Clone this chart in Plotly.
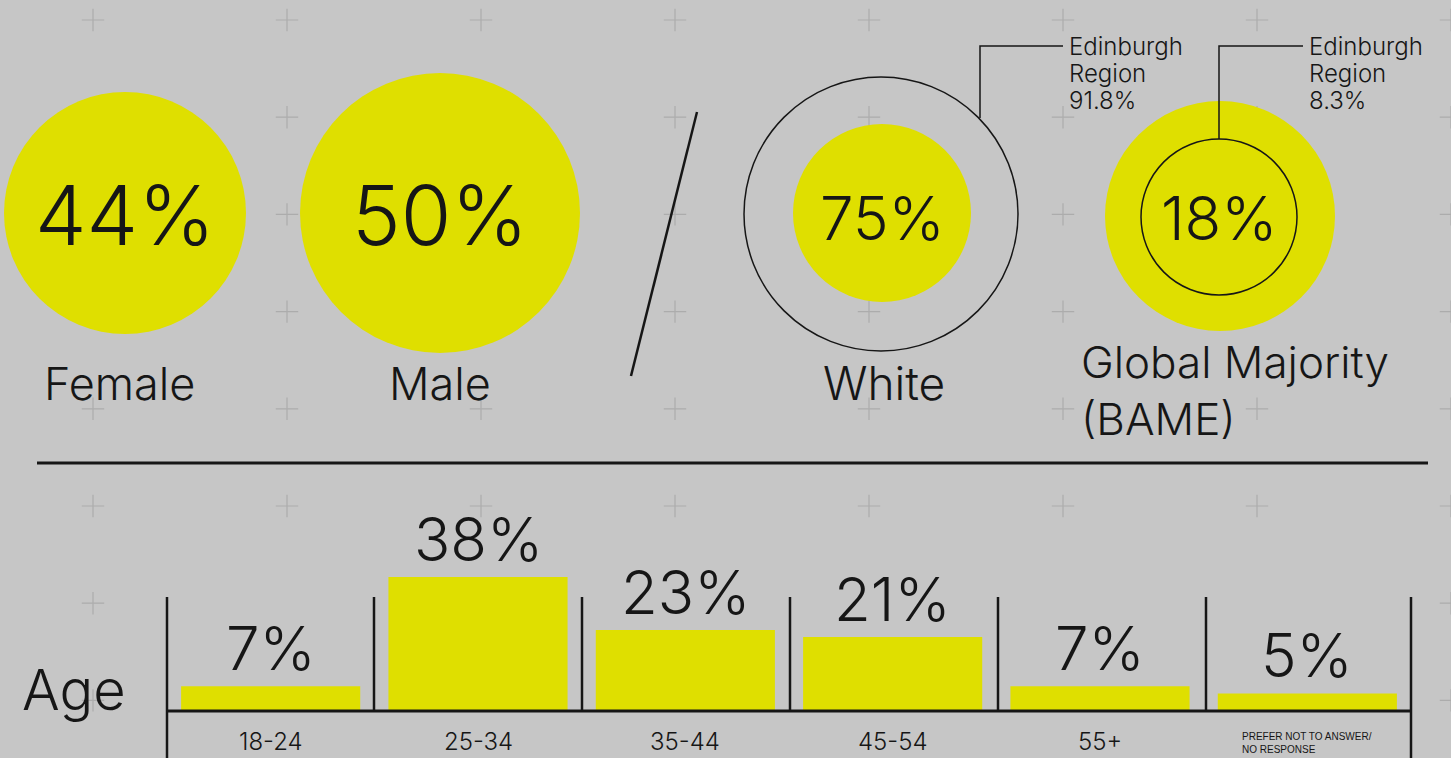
import plotly.graph_objects as go

# ---------------- data ----------------
gender_labels = ["Female", "Male"]
gender_pct = [44, 50]

ethnicity_labels = ["White", "Global Majority<br>(BAME)"]
ethnicity_pct = [75, 18]
region_label = "Edinburgh<br>Region"
region_pct = [91.8, 8.3]

age_groups = ["18-24", "25-34", "35-44", "45-54", "55+", "PREFER NOT TO ANSWER/<br>NO RESPONSE"]
age_pct = [7, 38, 23, 21, 7, 5]

# ---------------- style ----------------
W, H = 1451, 758
BG = "#c6c6c6"
YELLOW = "#dfdf00"
INK = "#161616"
PLUS = "#acacac"
FONT = "Inter"

fig = go.Figure()

# decorative "+" grid
gx, gy = [], []
for j in range(8):
    for i in range(8):
        gx.append(93 + 194 * i)
        gy.append(20 + 97.2 * j)
fig.add_trace(go.Scatter(
    x=gx, y=gy, mode="markers", xaxis="x", yaxis="y",
    marker=dict(symbol="cross-thin", size=16, line=dict(color=PLUS, width=1.2)),
    hoverinfo="skip", showlegend=False))

# age bars
fig.add_trace(go.Bar(
    x=age_groups, y=age_pct, xaxis="x2", yaxis="y2",
    marker=dict(color=YELLOW, line=dict(width=0)),
    hoverinfo="skip", showlegend=False))

shapes = []
annotations = []

def circle(cx, cy, r, fill=None, line=None, lw=0):
    shapes.append(dict(type="circle", xref="x", yref="y", layer="above",
                       x0=cx - r, x1=cx + r, y0=cy - r, y1=cy + r,
                       fillcolor=fill if fill else "rgba(0,0,0,0)",
                       line=dict(color=line if line else "rgba(0,0,0,0)", width=lw)))

def line(x0, y0, x1, y1, w=2.5):
    shapes.append(dict(type="line", xref="x", yref="y", layer="above",
                       x0=x0, y0=y0, x1=x1, y1=y1, line=dict(color=INK, width=w)))

def text(x, y, t, size, xanchor="center", yanchor="middle", align="center", xref="x", yref="y"):
    annotations.append(dict(x=x, y=y, xref=xref, yref=yref, text=t, showarrow=False,
                            xanchor=xanchor, yanchor=yanchor, align=align,
                            font=dict(family=FONT, size=size, color=INK, weight=300)))

# gender circles
gender_layout = [(125, 213, 121), (440, 213, 140)]
for (cx, cy, r), lab, v in zip(gender_layout, gender_labels, gender_pct):
    circle(cx, cy, r, fill=YELLOW)
    text(cx, cy + 2, f"{v}%", 82)
    text(cx - 6 if lab == "Female" else cx, 383, lab, 45)

# slash divider
line(697, 112, 631, 376, 2.5)

# region labels, one line per annotation
def region_text(x, pct):
    parts = region_label.split("<br>") + [f"{pct}%"]
    for k, p in enumerate(parts):
        text(x, 46 + 27 * k, p, 24, xanchor="left", align="left")

# White
circle(881, 214, 137, line=INK, lw=1.5)
circle(882, 213, 89, fill=YELLOW)
text(882, 218, f"{ethnicity_pct[0]}%", 60)
text(884, 383, ethnicity_labels[0], 46)
shapes.append(dict(type="path", xref="x", yref="y", layer="above",
                   path="M 980 118 L 980 46 L 1063 46", line=dict(color=INK, width=1.5)))
region_text(1067, region_pct[0])

# BAME
circle(1220, 216, 115, fill=YELLOW)
circle(1219, 217, 78, line=INK, lw=1.5)
text(1219, 218, f"{ethnicity_pct[1]}%", 60)
shapes.append(dict(type="path", xref="x", yref="y", layer="above",
                   path="M 1219 139 L 1219 46 L 1303 46", line=dict(color=INK, width=1.5)))
region_text(1307, region_pct[1])
text(1079, 390, ethnicity_labels[1], 44, xanchor="left", align="left")

# separator
line(37, 463, 1428, 463, 3)

# age frame
text(74, 690, "Age", 56)
xs = [167, 374, 582, 790, 998, 1206, 1411]
for i, xv in enumerate(xs):
    if i == 0 or i == len(xs) - 1:
        line(xv, 597, xv, 758, 2.5)
    else:
        line(xv, 597, xv, 711, 2.5)
line(167, 711, 1411, 711, 3)

for g, v in zip(age_groups, age_pct):
    text(g, v, f"{v}%", 60, yanchor="bottom", xref="x2", yref="y2")
    if "<br>" in g:
        annotations.append(dict(x=g, y=743, xref="x2", yref="y", text=g, showarrow=False,
                                xanchor="center", yanchor="middle", align="left",
                                font=dict(family="Liberation Sans", size=10, color=INK)))
    else:
        text(g, 741, g, 24, xref="x2", yref="y")

fig.update_layout(
    width=W, height=H,
    margin=dict(l=0, r=0, t=0, b=0),
    paper_bgcolor=BG, plot_bgcolor=BG,
    xaxis=dict(range=[0, W], domain=[0, 1], visible=False, fixedrange=True),
    yaxis=dict(range=[H, 0], domain=[0, 1], visible=False, fixedrange=True),
    xaxis2=dict(domain=[167 / W, 1411 / W], anchor="y2", visible=False, type="category"),
    yaxis2=dict(domain=[(H - 711) / H, (H - 570) / H], range=[0, 40], anchor="x2", visible=False),
    bargap=0.136,
    shapes=shapes,
    annotations=annotations,
    showlegend=False,
)

fig.write_html("out.html", config={"displayModeBar": False},
               post_script="document.body.style.margin='0';document.body.style.overflow='hidden';")
